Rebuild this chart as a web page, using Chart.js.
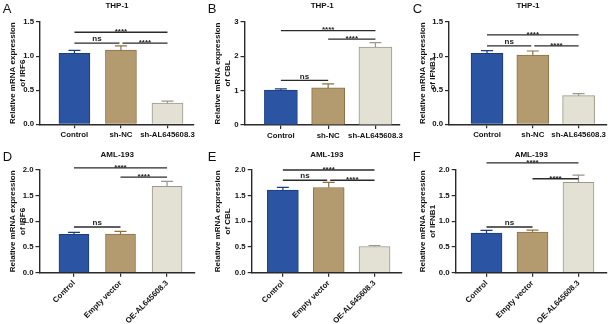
<!DOCTYPE html>
<html><head><meta charset="utf-8">
<script src="https://cdn.jsdelivr.net/npm/chart.js@4.4.0/dist/chart.umd.min.js"></script>
<style>
html,body{margin:0;padding:0;background:#fff;}
body{width:615px;height:324px;position:relative;overflow:hidden;}
canvas{position:absolute;}
</style></head><body>
<script>
// ---------- DATA ----------
const thpCategories = ['Control', 'sh-NC', 'sh-AL645608.3'];
const amlCategories = ['Control', 'Empty vector', 'OE-AL645608.3'];

const irf6THP = [1.04, 1.09, 0.31];
const irf6THPErr = [0.045, 0.06, 0.03];
const cblTHP = [1.02, 1.08, 2.27];
const cblTHPErr = [0.03, 0.12, 0.13];
const ifnb1THP = [1.04, 1.015, 0.42];
const ifnb1THPErr = [0.04, 0.06, 0.03];

const irf6AML = [0.745, 0.75, 1.68];
const irf6AMLErr = [0.04, 0.055, 0.10];
const cblAML = [1.61, 1.66, 0.51];
const cblAMLErr = [0.05, 0.10, 0.02];
const ifnb1AML = [0.77, 0.79, 1.76];
const ifnb1AMLErr = [0.055, 0.04, 0.14];

// significance brackets: [fromIndex, toIndex, yLevel, label]
const sigIRF6THP = [[0, 2, 1.35, '****'], [0, 1, 1.19, 'ns'], [1, 2, 1.19, '****']];
const sigCBLTHP = [[0, 2, 2.75, '****'], [1, 2, 2.5, '****'], [0, 1, 1.3, 'ns']];
const sigIFNB1THP = [[0, 2, 1.31, '****'], [0, 1, 1.15, 'ns'], [1, 2, 1.15, '****']];
const sigIRF6AML = [[0, 2, 2.04, '****'], [1, 2, 1.86, '****'], [0, 1, 0.89, 'ns']];
const sigCBLAML = [[0, 2, 2.0, '****'], [0, 1, 1.80, 'ns'], [1, 2, 1.80, '****']];
const sigIFNB1AML = [[0, 2, 2.14, '****'], [1, 2, 1.83, '****'], [0, 1, 0.89, 'ns']];

const yTicksIRF6THP = [0, 0.5, 1.0, 1.5];
const yTicksCBLTHP = [0, 1, 2, 3];
const yTicks2 = [0, 0.5, 1.0, 1.5, 2.0];

// ---------- STYLE ----------
const barFill = ['#2b55a2', '#b49b6f', '#e3e0d4'];
const barEdge = ['#1d3c7c', '#8a7148', '#9c978b'];
const FONT = '"Liberation Sans", Arial, sans-serif';
const AXIS = '#2a2a2a';

const panels = [
  {letter:'A', title:'THP-1', gene:'IRF6', cats:thpCategories, vals:irf6THP, errs:irf6THPErr, sig:sigIRF6THP, yt:yTicksIRF6THP, dec:1,
   left:0, top:0, w:205, h:150, L:40, R:194, T:22, B:124.3, xMin:-0.74, xMax:2.57, rot:0, titleY:8, letterY:13, bw:31},
  {letter:'B', title:'THP-1', gene:'CBL', cats:thpCategories, vals:cblTHP, errs:cblTHPErr, sig:sigCBLTHP, yt:yTicksCBLTHP, dec:0,
   left:205, top:0, w:205, h:150, L:39.5, R:195, T:22, B:125, xMin:-0.77, xMax:2.52, rot:0, titleY:8, letterY:13, bw:33},
  {letter:'C', title:'THP-1', gene:'IFNB1', cats:thpCategories, vals:ifnb1THP, errs:ifnb1THPErr, sig:sigIFNB1THP, yt:yTicksIRF6THP, dec:1,
   left:410, top:0, w:205, h:150, L:39, R:197, T:22, B:124.3, xMin:-0.83, xMax:2.62, rot:0, titleY:8, letterY:13, bw:32},
  {letter:'D', title:'AML-193', gene:'IRF6', cats:amlCategories, vals:irf6AML, errs:irf6AMLErr, sig:sigIRF6AML, yt:yTicks2, dec:1,
   left:0, top:145, w:205, h:179, L:39.5, R:195, T:25, B:127.7, xMin:-0.74, xMax:2.6, rot:45, titleY:12.3, letterY:15.7, bw:30},
  {letter:'E', title:'AML-193', gene:'CBL', cats:amlCategories, vals:cblAML, errs:cblAMLErr, sig:sigCBLAML, yt:yTicks2, dec:1,
   left:205, top:145, w:205, h:179, L:46.7, R:197, T:25, B:127.7, xMin:-0.68, xMax:2.6, rot:45, titleY:12.3, letterY:15.7, bw:31},
  {letter:'F', title:'AML-193', gene:'IFNB1', cats:amlCategories, vals:ifnb1AML, errs:ifnb1AMLErr, sig:sigIFNB1AML, yt:yTicks2, dec:1,
   left:410, top:145, w:205, h:179, L:45.7, R:197, T:25, B:127.7, xMin:-0.67, xMax:2.62, rot:45, titleY:12.3, letterY:15.7, bw:31}
];

const annotPlugin = {
  id: 'annot',
  afterDatasetsDraw(chart, args, o) {
    const ctx = chart.ctx, xs = chart.scales.x, ys = chart.scales.y;
    ctx.save();
    // error bars (upper only)
    o.vals.forEach((v, i) => {
      const px = xs.getPixelForValue(i);
      const y0 = ys.getPixelForValue(v);
      const y1 = ys.getPixelForValue(v + o.errs[i]);
      ctx.strokeStyle = barEdge[i];
      ctx.lineWidth = 1.2;
      ctx.beginPath();
      ctx.moveTo(px, y0); ctx.lineTo(px, y1);
      ctx.moveTo(px - 6, y1); ctx.lineTo(px + 6, y1);
      ctx.stroke();
    });
    // significance brackets
    o.sig.forEach((s) => {
      const [a, b, lvl, lab] = s;
      const shareL = o.sig.some(t => t !== s && t[2] === lvl && t[1] === a);
      const shareR = o.sig.some(t => t !== s && t[2] === lvl && t[0] === b);
      const x1 = xs.getPixelForValue(a) + (shareL ? 1.5 : 0);
      const x2 = xs.getPixelForValue(b) - (shareR ? 1.5 : 0);
      const py = ys.getPixelForValue(lvl);
      ctx.strokeStyle = AXIS;
      ctx.lineWidth = 1.3;
      ctx.beginPath(); ctx.moveTo(x1, py); ctx.lineTo(x2, py); ctx.stroke();
      ctx.fillStyle = '#222';
      ctx.textAlign = 'center';
      ctx.textBaseline = 'alphabetic';
      ctx.font = 'bold 8px ' + FONT;
      const cx = (x1 + x2) / 2;
      if (lab === 'ns') ctx.fillText(lab, cx, py - 1.8);
      else ctx.fillText(lab, cx, py + 1.8);
    });
    ctx.restore();
  },
  afterDraw(chart, args, o) {
    const ctx = chart.ctx, ca = chart.chartArea;
    ctx.save();
    ctx.fillStyle = '#111';
    ctx.textBaseline = 'alphabetic';
    ctx.textAlign = 'center';
    ctx.font = 'bold 8px ' + FONT;
    ctx.fillText(o.title, (ca.left + ca.right) / 2, o.titleY);
    ctx.textAlign = 'left';
    ctx.font = '13px ' + FONT;
    ctx.fillText(o.letter, 2.7, o.letterY);
    ctx.restore();
  }
};

panels.forEach((p) => {
  const cv = document.createElement('canvas');
  cv.width = p.w; cv.height = p.h;
  cv.style.left = p.left + 'px'; cv.style.top = p.top + 'px';
  cv.style.width = p.w + 'px'; cv.style.height = p.h + 'px';
  document.body.appendChild(cv);
  const yMax = p.yt[p.yt.length - 1];
  new Chart(cv, {
    type: 'bar',
    data: {
      datasets: [{
        data: p.vals.map((v, i) => ({x: i, y: v})),
        backgroundColor: barFill,
        borderColor: barEdge,
        borderWidth: 1,
        borderSkipped: 'bottom',
        barThickness: p.bw
      }]
    },
    plugins: [annotPlugin],
    options: {
      responsive: false,
      animation: false,
      devicePixelRatio: 1,
      layout: {padding: {left: 0, top: p.T, right: p.w - p.R, bottom: 0}, autoPadding: false},
      plugins: {
        legend: {display: false},
        tooltip: {enabled: false},
        title: {display: false},
        annot: {vals: p.vals, errs: p.errs, sig: p.sig, title: p.title, letter: p.letter, titleY: p.titleY, letterY: p.letterY}
      },
      scales: {
        x: {
          type: 'linear',
          offset: false,
          min: p.xMin, max: p.xMax,
          afterFit: (s) => { s.height = p.h - p.B; },
          grid: {offset: false, drawOnChartArea: false, drawTicks: true, tickLength: 4, color: AXIS, lineWidth: 1.2},
          border: {display: true, color: AXIS, width: 1.4},
          ticks: {
            stepSize: 1, includeBounds: false, autoSkip: false,
            minRotation: p.rot, maxRotation: p.rot, padding: 2,
            color: '#111',
            font: {family: FONT, size: 7.8, weight: 'bold'},
            callback: (v) => (Number.isInteger(v) && p.cats[v] !== undefined) ? p.cats[v] : ''
          }
        },
        y: {
          type: 'linear',
          min: 0, max: yMax,
          afterFit: (s) => { s.width = p.L; },
          afterBuildTicks: (s) => { s.ticks = p.yt.map(v => ({value: v})); },
          grid: {drawOnChartArea: false, drawTicks: true, tickLength: 4, color: AXIS, lineWidth: 1.2},
          border: {display: true, color: AXIS, width: 1.4},
          ticks: {
            padding: 2, color: '#111',
            font: {family: FONT, size: 7.8, weight: 'bold'},
            callback: (v) => Number(v).toFixed(p.dec)
          },
          title: {
            display: true,
            text: ['Relative mRNA expression', 'of ' + p.gene],
            color: '#111',
            font: {family: FONT, size: 8, weight: 'bold', lineHeight: 1.25},
            padding: {top: 8, bottom: 0}
          }
        }
      }
    }
  });
});
</script>
</body></html>
